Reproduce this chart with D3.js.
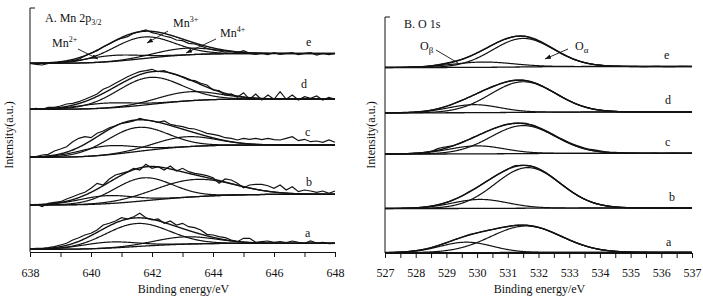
<!DOCTYPE html>
<html><head><meta charset="utf-8">
<script src="https://cdn.jsdelivr.net/npm/d3@7"></script>
<style>
body{margin:0;background:#fff}
text{font-family:"Liberation Serif","Times New Roman",serif;fill:#111}
</style>
</head><body>
<svg id="chart" width="703" height="303"></svg>
<script>
// ---------- Panel A: Mn 2p3/2 ----------
const mnStart = 638, mnStep = 0.2;              // raw sampling
const mnTicks = [638,639,640,641,642,643,644,645,646,647,648];
const mnTickLabels = [638,640,642,644,646,648];
const mnSpectra = ['a','b','c','d','e'];
const mnRawA = [3.0,3.7,3.7,4.3,5.3,7.0,8.7,12.0,14.3,17.0,18.7,22.0,27.0,28.7,31.0,34.3,33.0,35.3,38.7,34.3,32.0,33.0,28.7,31.0,27.0,28.7,25.3,24.3,22.0,17.7,17.0,15.3,14.3,12.0,10.3,13.7,13.7,9.7,10.3,11.0,9.7,10.3,9.3,11.0,9.7,8.7,11.0,9.0,9.7,8.3,8.7];
const mnRawB = [47.0,47.7,45.3,48.7,49.7,50.3,53.0,55.3,57.7,59.7,63.7,68.7,67.0,73.0,77.0,78.7,80.3,83.7,82.0,87.7,83.7,85.3,82.0,86.0,81.0,83.7,80.3,78.7,77.7,76.3,74.3,68.7,73.0,72.0,68.7,64.3,67.0,67.7,67.7,66.3,63.7,67.0,62.0,65.3,60.3,62.0,61.0,59.7,61.0,58.7,61.0];
const mnRawC = [94.7,95.3,97.0,97.7,101.0,103.0,105.3,110.3,113.7,115.3,114.3,118.7,121.0,124.3,126.3,128.7,129.7,131.0,133.7,132.0,131.0,129.7,131.0,127.7,126.3,125.3,123.7,123.0,121.0,118.7,117.7,116.3,114.3,113.7,112.0,113.7,112.7,113.7,112.3,113.7,112.3,112.0,113.7,115.3,111.3,112.7,110.3,111.0,109.7,112.0,109.7];
const mnRawD = [142.7,143.7,142.7,144.7,144.7,146.0,148.0,148.7,150.3,152.7,155.3,158.0,162.7,165.3,168.7,172.0,175.3,178.0,180.3,181.3,182.7,180.3,181.3,178.7,177.0,174.7,172.0,171.3,168.7,167.0,162.0,161.3,157.0,158.0,154.7,159.3,152.7,158.0,152.0,157.0,152.7,160.3,152.7,157.0,152.0,155.3,153.7,156.0,152.0,154.7,152.7];
const mnRawE = [188.7,187.7,187.0,188.7,189.0,189.7,190.0,191.3,192.7,196.0,198.7,201.3,205.3,208.0,211.3,213.7,215.3,218.7,220.3,222.0,219.3,218.0,216.0,214.7,212.0,211.3,208.7,208.0,206.0,203.7,202.0,201.0,200.0,200.3,199.3,201.3,198.7,197.7,198.7,197.3,199.3,197.7,198.7,199.3,197.3,198.7,199.3,197.0,198.7,197.3,198.7];
// background start/end level, a..e
const mnBackground = [[2.7,8.7],[47,57.7],[94.7,107],[142.7,153],[188.7,198.5]];
// fitted components [centre eV, height, sigma], a..e
const mnMn2 = [[640.6,6,0.9],[640.5,8,0.9],[640.5,9,0.9],[640.5,5,0.9],[640.7,6,0.9]];
const mnMn3 = [[641.5,23,1.05],[641.7,23,0.95],[641.5,24,1.0],[641.9,27,1.05],[641.7,21.5,1.0]];
const mnMn4 = [[643.1,7.3,1.0],[643.4,17.3,1.3],[643.1,10,1.0],[643.2,9,1.0],[643.1,6.7,1.0]];

// ---------- Panel B: O 1s ----------
const oStart = 527, oStep = 0.25;
const oTicks = [527,527.5,528,528.5,529,529.5,530,530.5,531,531.5,532,532.5,533,533.5,534,534.5,535,535.5,536,536.5,537];
const oTickLabels = [527,528,529,530,531,532,533,534,535,536,537];
const oRawA = [0.5,0.5,0.9,1.5,2.3,3.6,5.4,7.8,10.4,13.2,15.8,18.3,20.2,22.0,23.5,25.1,26.4,27.6,27.8,27.2,25.5,23.0,19.8,16.4,13.0,9.9,7.2,5.0,3.4,2.3,1.6,1.1,0.8,0.7,0.6,0.6,0.5,0.6,0.5,0.6,0.5];
const oRawB = [44.5,44.5,44.6,44.8,45.2,45.8,46.9,48.4,50.6,53.4,57.0,61.6,65.8,70.6,75.3,79.8,83.9,87.3,87.6,86.9,84.3,80.0,74.6,68.7,63.0,57.9,53.7,50.6,48.4,46.9,46.0,45.5,45.3,45.1,45.0,45.1,44.9,45.0,45.1,44.9,45.0];
const oRawC = [99.0,99.0,99.2,99.4,99.8,100.4,101.6,104.6,106.2,107.6,110.6,113.8,117.3,120.8,124.0,126.8,128.8,129.9,129.8,128.3,125.7,122.2,118.2,114.1,110.4,107.4,105.0,103.3,102.2,101.0,100.6,100.2,100.0,99.9,99.6,99.8,99.5,99.7,99.9,99.6,99.8];
const oRawD = [140.0,140.1,140.2,140.4,140.8,141.6,142.7,144.5,146.7,149.5,152.6,156.0,159.5,163.2,166.4,169.3,171.6,172.9,172.8,171.4,168.7,164.9,160.7,156.3,152.2,148.8,146.1,144.2,142.9,142.1,141.6,141.3,141.1,141.0,141.0,141.0,141.1,141.0,141.0,141.0,141.0];
const oRawE = [185.5,185.5,185.6,185.8,186.1,186.4,187.2,188.3,189.8,191.6,193.6,196.6,200.2,204.0,208.0,211.8,214.6,216.6,216.8,215.0,212.0,208.0,203.7,199.4,195.7,192.7,190.5,189.0,188.0,187.2,186.9,186.6,186.5,186.5,186.4,186.6,186.5,186.4,186.5,186.6,186.5];
const oBackground = [[0.4,0.6],[44.5,45],[99,99.7],[140.2,141],[185.5,186.5]];
const oBeta  = [[529.65,10.4,0.85],[530.1,9,0.9],[530.0,8,0.9],[529.9,8,0.85],[530.2,5.3,1.0]];
const oAlpha = [[531.6,26.5,1.15],[531.65,40.6,1.06],[531.5,28,1.05],[531.5,30.6,1.06],[531.5,28.5,1.0]];

// ---------- drawing ----------
const svg = d3.select('#chart');
const ink = '#121212';
const defs = svg.append('defs');
defs.append('marker').attr('id','ah').attr('viewBox','0 0 8 8').attr('refX',8).attr('refY',4)
  .attr('markerWidth',6).attr('markerHeight',6).attr('markerUnits','userSpaceOnUse').attr('orient','auto')
  .append('path').attr('d','M0,1 L8,4 L0,7 z').attr('fill',ink);

function gauss(E, p){ const d=(E-p[0])/p[2]; return p[1]*Math.exp(-0.5*d*d); }

function fitCurves(E0, E1, bg, peaks){
  const st = 0.02;
  const xs = d3.range(E0, E1 + st/2, st);
  const sums = xs.map(E => d3.sum(peaks, p => gauss(E,p)));
  const cum = Array.from(d3.cumsum(sums)); const tot = cum[cum.length-1];
  const bgv = xs.map((E,i) => bg[0] + (bg[1]-bg[0]) * cum[i]/tot);
  return {
    bg: xs.map((E,i)=>[E,bgv[i]]),
    comps: peaks.map(p => xs.map((E,i)=>[E,bgv[i]+gauss(E,p)])),
    env: xs.map((E,i)=>[E,bgv[i]+sums[i]])
  };
}

function panel(cfg){
  const g = svg.append('g');
  const x = d3.scaleLinear().domain(cfg.xDomain).range(cfg.xRange);
  const y = d3.scaleLinear().domain(cfg.yDomain).range(cfg.yRange);
  const line = d3.line().x(d=>x(d[0])).y(d=>y(d[1]));
  const rawLine = d3.line().x(d=>x(d[0])).y(d=>y(d[1])).curve(cfg.rawCurve);
  cfg.raws.forEach((raw,i) => {
    const f = fitCurves(cfg.xDomain[0], cfg.xDomain[1], cfg.bgs[i], cfg.peaks.map(P=>P[i]));
    g.append('path').attr('d', line(f.bg)).attr('fill','none').attr('stroke',ink).attr('stroke-width',1.3);
    f.comps.forEach(c => g.append('path').attr('d', line(c)).attr('fill','none').attr('stroke',ink).attr('stroke-width',1.2));
    g.append('path').attr('d', line(f.env)).attr('fill','none').attr('stroke',ink).attr('stroke-width',1.4);
    const pts = raw.map((v,k)=>[cfg.start + k*cfg.step, v]);
    g.append('path').attr('d', rawLine(pts)).attr('fill','none').attr('stroke',ink).attr('stroke-width',1.2);
  });
  // axes
  const ax = d3.axisBottom(x).tickValues(cfg.ticks).tickSize(5).tickSizeOuter(0).tickPadding(cfg.pad)
    .tickFormat(d => cfg.tickLabels.includes(d) ? d3.format('d')(d) : '');
  const axg = g.append('g').attr('transform',`translate(0,${cfg.yRange[0]})`).call(ax);
  axg.selectAll('path,line').attr('stroke',ink).attr('stroke-width',1);
  axg.selectAll('text').attr('font-size',12).attr('font-family','"Liberation Serif",serif').attr('fill','#111');
  g.append('line').attr('x1',cfg.xRange[0]).attr('x2',cfg.xRange[0]).attr('y1',cfg.yRange[1]).attr('y2',cfg.yRange[0]).attr('stroke',ink);
  g.append('line').attr('x1',cfg.xRange[0]).attr('x2',cfg.xRange[0]+5).attr('y1',cfg.yRange[1]).attr('y2',cfg.yRange[1]).attr('stroke',ink);
  g.append('text').attr('x',(cfg.xRange[0]+cfg.xRange[1])/2+1).attr('y',293).attr('text-anchor','middle').attr('font-size',12).text('Binding energy/eV');
  g.append('text').attr('transform',`translate(${cfg.yLabelX},135) rotate(-90)`).attr('text-anchor','middle').attr('font-size',12).text('Intensity(a.u.)');
  cfg.letters.forEach((L,i)=> g.append('text').attr('x',cfg.letterPos[i][0]).attr('y',cfg.letterPos[i][1]).attr('font-size',12).text(mnSpectra[i]));
  return {x,y};
}

panel({xDomain:[638,648], xRange:[30,335], yDomain:[0,244], yRange:[252,8],
  raws:[mnRawA,mnRawB,mnRawC,mnRawD,mnRawE], bgs:mnBackground, peaks:[mnMn2,mnMn3,mnMn4],
  start:mnStart, step:mnStep, rawCurve:d3.curveLinear, ticks:mnTicks, tickLabels:mnTickLabels, pad:11,
  yLabelX:13, letters:mnSpectra, letterPos:[[305,237],[306,186],[305,136],[301,88],[306,46]]});

panel({xDomain:[527,537], xRange:[385,692], yDomain:[0,236], yRange:[253,17],
  raws:[oRawA,oRawB,oRawC,oRawD,oRawE], bgs:oBackground, peaks:[oBeta,oAlpha],
  start:oStart, step:oStep, rawCurve:d3.curveMonotoneX, ticks:oTicks, tickLabels:oTickLabels, pad:10,
  yLabelX:375, letters:mnSpectra, letterPos:[[666,246],[669,201],[665,146],[665,104],[664,59]]});

// ---------- annotations ----------
function sub(t, main, small, dy, size){ t.append('tspan').text(main); t.append('tspan').attr('font-size',size||8).attr('dy',dy).text(small); }
let t;
t = svg.append('text').attr('x',45).attr('y',22).attr('font-size',12); sub(t,'A. Mn 2p','3/2',3);
t = svg.append('text').attr('x',52).attr('y',47).attr('font-size',12); sub(t,'Mn','2+',-5);
t = svg.append('text').attr('x',173).attr('y',27).attr('font-size',12); sub(t,'Mn','3+',-5);
t = svg.append('text').attr('x',220).attr('y',37).attr('font-size',12); sub(t,'Mn','4+',-5);
t = svg.append('text').attr('x',404).attr('y',28).attr('font-size',12); t.text('B. O 1s');
t = svg.append('text').attr('x',420).attr('y',50).attr('font-size',12); sub(t,'O','β',3,9);
t = svg.append('text').attr('x',575).attr('y',50).attr('font-size',12); sub(t,'O','α',3,9);
const arrows = [[78,49,98,59,true],[168,31,147,43,true],[216,39,186,53,true],[436,50,458,63,false],[568,49,545,59,true]];
arrows.forEach(a => {
  const l = svg.append('line').attr('x1',a[0]).attr('y1',a[1]).attr('x2',a[2]).attr('y2',a[3]).attr('stroke',ink).attr('stroke-width',0.9);
  if(a[4]) l.attr('marker-end','url(#ah)');
});
</script>
</body></html>
